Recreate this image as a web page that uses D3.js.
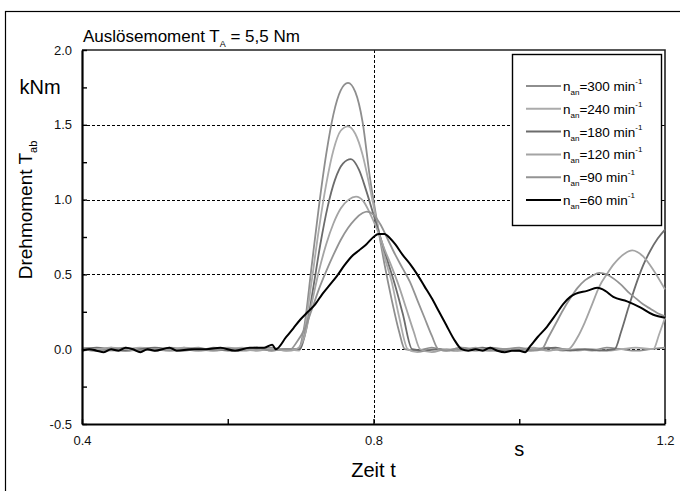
<!DOCTYPE html>
<html>
<head>
<meta charset="utf-8">
<script src="https://cdn.jsdelivr.net/npm/d3@7"></script>
<style>
  body { margin: 0; background: #fff; }
  svg { font-family: "Liberation Sans", Arial, sans-serif; }
</style>
</head>
<body>
<svg id="chart"></svg>
<script>
// speeds in legend order, and their line colours
const SPEEDS = ["300", "240", "180", "120", "90", "60"];
const COLORS = ["#8e8e8e", "#ababab", "#6c6c6c", "#a4a4a4", "#939393", "#000000"];

// [t in s, T_ab in kNm]
const N300 = [[0.40,0.00],[0.42,-0.01],[0.44,0.01],[0.46,-0.01],[0.48,0.00],[0.50,-0.01],[0.52,0.01],[0.54,0.00],[0.56,-0.01],[0.58,0.01],[0.60,0.00],[0.62,-0.01],[0.64,0.00],[0.66,0.01],[0.68,-0.01],[0.697,0.00],[0.705,0.15],[0.715,0.55],[0.725,0.95],[0.735,1.30],[0.745,1.57],[0.755,1.73],[0.765,1.78],[0.775,1.72],[0.785,1.52],[0.795,1.15],[0.805,0.85],[0.815,0.57],[0.825,0.33],[0.835,0.12],[0.843,0.00],[0.86,-0.01],[0.88,0.01],[0.90,-0.01],[0.92,0.00],[0.94,-0.01],[0.96,0.01],[0.98,0.00],[1.00,-0.01],[1.02,0.00],[1.04,0.01],[1.06,-0.01],[1.08,0.00],[1.10,-0.01],[1.12,0.01],[1.14,0.00],[1.16,-0.01],[1.18,0.00],[1.20,0.01]];
const N240 = [[0.40,0.01],[0.42,0.00],[0.44,-0.01],[0.46,0.00],[0.48,0.01],[0.50,0.00],[0.52,-0.01],[0.54,0.01],[0.56,0.00],[0.58,-0.01],[0.60,0.00],[0.62,0.01],[0.64,-0.01],[0.66,0.00],[0.68,0.00],[0.698,-0.01],[0.705,0.12],[0.715,0.45],[0.725,0.80],[0.735,1.10],[0.745,1.33],[0.755,1.46],[0.765,1.49],[0.775,1.44],[0.785,1.30],[0.795,1.08],[0.805,0.84],[0.815,0.62],[0.825,0.45],[0.835,0.22],[0.847,0.00],[0.86,-0.02],[0.88,0.00],[0.90,-0.01],[0.92,0.01],[0.94,-0.01],[0.96,0.00],[0.98,-0.01],[1.00,0.00],[1.02,0.01],[1.04,-0.01],[1.06,0.00],[1.08,-0.01],[1.10,0.00],[1.12,-0.01],[1.14,0.00],[1.16,0.01],[1.184,0.00],[1.192,0.10],[1.20,0.21]];
const N180 = [[0.40,0.00],[0.42,0.01],[0.44,0.00],[0.46,-0.01],[0.48,0.00],[0.50,0.01],[0.52,0.00],[0.54,-0.01],[0.56,0.00],[0.58,0.00],[0.60,-0.01],[0.62,0.00],[0.64,0.01],[0.66,-0.01],[0.68,0.00],[0.699,0.00],[0.707,0.12],[0.717,0.40],[0.727,0.70],[0.737,0.95],[0.747,1.13],[0.758,1.24],[0.769,1.27],[0.78,1.20],[0.79,1.06],[0.80,0.90],[0.81,0.74],[0.82,0.58],[0.83,0.42],[0.84,0.24],[0.853,0.00],[0.87,-0.01],[0.89,0.00],[0.91,-0.01],[0.93,0.00],[0.95,0.01],[0.97,-0.01],[0.99,0.00],[1.01,-0.01],[1.03,0.00],[1.05,0.01],[1.07,-0.01],[1.09,0.00],[1.11,-0.01],[1.131,0.00],[1.14,0.12],[1.15,0.28],[1.16,0.43],[1.17,0.56],[1.18,0.66],[1.19,0.74],[1.20,0.80]];
const N120 = [[0.40,-0.01],[0.42,0.00],[0.44,0.01],[0.46,0.00],[0.48,-0.01],[0.50,0.00],[0.52,0.00],[0.54,0.01],[0.56,-0.01],[0.58,0.00],[0.60,0.01],[0.62,0.00],[0.64,-0.01],[0.66,0.00],[0.68,-0.01],[0.694,0.00],[0.705,0.08],[0.715,0.30],[0.725,0.52],[0.735,0.70],[0.745,0.84],[0.755,0.94],[0.766,1.00],[0.776,1.02],[0.786,0.99],[0.795,0.91],[0.805,0.80],[0.815,0.67],[0.825,0.55],[0.835,0.42],[0.845,0.27],[0.855,0.12],[0.864,0.00],[0.88,-0.02],[0.90,0.00],[0.92,-0.01],[0.94,0.01],[0.96,-0.01],[0.98,0.00],[1.00,-0.01],[1.02,0.00],[1.04,-0.01],[1.055,0.00],[1.067,0.00],[1.08,0.08],[1.09,0.18],[1.10,0.30],[1.11,0.42],[1.12,0.50],[1.13,0.57],[1.145,0.64],[1.155,0.66],[1.162,0.65],[1.17,0.62],[1.184,0.53],[1.20,0.40]];
const N90 = [[0.40,0.00],[0.42,-0.01],[0.44,0.00],[0.46,0.01],[0.48,-0.01],[0.50,0.00],[0.52,-0.01],[0.54,0.00],[0.56,0.01],[0.58,-0.01],[0.60,0.00],[0.62,0.00],[0.64,0.01],[0.66,-0.01],[0.675,0.00],[0.686,0.00],[0.695,0.05],[0.705,0.13],[0.715,0.26],[0.725,0.40],[0.735,0.52],[0.745,0.63],[0.755,0.73],[0.765,0.81],[0.775,0.87],[0.785,0.91],[0.791,0.92],[0.80,0.90],[0.81,0.83],[0.82,0.73],[0.83,0.63],[0.84,0.54],[0.85,0.45],[0.86,0.33],[0.87,0.21],[0.88,0.09],[0.889,0.00],[0.90,-0.01],[0.92,0.01],[0.94,0.00],[0.96,-0.01],[0.98,0.00],[1.00,0.01],[1.02,-0.01],[1.031,0.00],[1.04,0.08],[1.05,0.17],[1.06,0.26],[1.07,0.34],[1.08,0.41],[1.09,0.46],[1.10,0.49],[1.11,0.51],[1.12,0.50],[1.13,0.47],[1.14,0.43],[1.15,0.38],[1.16,0.34],[1.17,0.30],[1.18,0.27],[1.19,0.24],[1.20,0.22]];
const N60 = [[0.40,-0.01],[0.41,0.00],[0.42,-0.01],[0.43,-0.02],[0.44,0.00],[0.45,-0.01],[0.46,0.01],[0.47,0.00],[0.48,-0.02],[0.49,0.00],[0.50,-0.01],[0.52,0.01],[0.53,-0.01],[0.55,0.00],[0.57,0.00],[0.59,0.01],[0.61,-0.01],[0.63,0.01],[0.65,0.01],[0.661,0.03],[0.666,0.00],[0.68,0.08],[0.69,0.14],[0.70,0.20],[0.71,0.25],[0.72,0.30],[0.73,0.37],[0.74,0.43],[0.75,0.49],[0.76,0.56],[0.77,0.62],[0.78,0.66],[0.79,0.70],[0.80,0.75],[0.807,0.77],[0.815,0.77],[0.823,0.74],[0.83,0.70],[0.84,0.63],[0.85,0.57],[0.86,0.50],[0.87,0.42],[0.88,0.34],[0.89,0.25],[0.90,0.16],[0.91,0.07],[0.921,0.00],[0.93,-0.01],[0.94,0.00],[0.95,-0.01],[0.96,0.01],[0.97,-0.01],[0.98,-0.02],[0.99,-0.01],[1.00,-0.01],[1.008,-0.02],[1.015,0.02],[1.025,0.08],[1.038,0.15],[1.05,0.23],[1.06,0.30],[1.07,0.35],[1.077,0.37],[1.093,0.39],[1.107,0.41],[1.118,0.39],[1.129,0.35],[1.148,0.32],[1.166,0.28],[1.184,0.23],[1.20,0.21]];
const SERIES = [N300, N240, N180, N120, N90, N60];

const X_TICKS = [0.4, 0.6, 0.8, 1.0, 1.2];
const X_LABELS = [0.4, 0.8, 1.2];
const Y_TICKS = [-0.5, -0.25, 0, 0.25, 0.5, 0.75, 1.0, 1.25, 1.5, 1.75, 2.0];
const Y_LABELS = [-0.5, 0, 0.5, 1.0, 1.5, 2.0];
const Y_GRID = [0, 0.5, 1.0, 1.5];
const X_GRID = [0.8];

const TOTAL_WIDTH = 680;
const TOTAL_HEIGHT = 491;
const margin = { top: 50, right: 15, bottom: 67, left: 82 };
const CHART_START_X = margin.left;
const CHART_START_Y = margin.top;
const CHART_END_X = TOTAL_WIDTH - margin.right;
const CHART_END_Y = TOTAL_HEIGHT - margin.bottom;

// plain hyphen for negatives, like the original
const fmt = (d) => d3.format(".1f")(d).replace("\u2212", "-");
const isIn = (list, d) => list.some((v) => Math.abs(v - d) < 1e-9);

const svg = d3.select("#chart")
  .attr("width", TOTAL_WIDTH)
  .attr("height", TOTAL_HEIGHT);

// outer frame, runs off the right and bottom edge
svg.append("rect")
  .attr("x", 5.5).attr("y", 11.5)
  .attr("width", 700).attr("height", 500)
  .attr("fill", "none").attr("stroke", "#000").attr("stroke-width", 1.2);

const xScale = d3.scaleLinear().domain([0.4, 1.2]).range([CHART_START_X, CHART_END_X]);
const yScale = d3.scaleLinear().domain([-0.5, 2.0]).range([CHART_END_Y, CHART_START_Y]);

// dashed grid
svg.selectAll(".hgrid")
  .data(Y_GRID)
  .join("line")
  .attr("x1", CHART_START_X).attr("x2", CHART_END_X)
  .attr("y1", (d) => Math.round(yScale(d)) + 0.5)
  .attr("y2", (d) => Math.round(yScale(d)) + 0.5)
  .attr("stroke", "#000").attr("stroke-width", 1)
  .attr("stroke-dasharray", "3,2");

svg.selectAll(".vgrid")
  .data(X_GRID)
  .join("line")
  .attr("x1", (d) => Math.round(xScale(d)) + 0.5)
  .attr("x2", (d) => Math.round(xScale(d)) + 0.5)
  .attr("y1", CHART_START_Y).attr("y2", CHART_END_Y)
  .attr("stroke", "#000").attr("stroke-width", 1)
  .attr("stroke-dasharray", "3,2");

// top and right frame of the plot
svg.append("path")
  .attr("d", `M${CHART_START_X},${CHART_START_Y}H${CHART_END_X}V${CHART_END_Y}`)
  .attr("fill", "none").attr("stroke", "#222").attr("stroke-width", 1.6);

// curves
const line = d3.line()
  .x((d) => xScale(d[0]))
  .y((d) => yScale(d[1]))
  .curve(d3.curveMonotoneX);

svg.append("g")
  .selectAll("path")
  .data(SERIES)
  .join("path")
  .attr("d", line)
  .attr("fill", "none")
  .attr("stroke", (d, i) => COLORS[i])
  .attr("stroke-width", (d, i) => (i === 5 ? 2 : 1.8))
  .attr("stroke-linejoin", "round");

// axes, ticks point inward
const xAxis = d3.axisBottom(xScale)
  .tickValues(X_TICKS)
  .tickSizeInner(-5)
  .tickSizeOuter(0)
  .tickPadding(12)
  .tickFormat((d) => (isIn(X_LABELS, d) ? fmt(d) : ""));

const yAxis = d3.axisLeft(yScale)
  .tickValues(Y_TICKS)
  .tickSizeInner(-5)
  .tickSizeOuter(0)
  .tickPadding(10)
  .tickFormat((d) => (isIn(Y_LABELS, d) ? fmt(d) : ""));

const gx = svg.append("g")
  .attr("transform", `translate(0, ${CHART_END_Y})`)
  .call(xAxis);
const gy = svg.append("g")
  .attr("transform", `translate(${CHART_START_X}, 0)`)
  .call(yAxis);

[gx, gy].forEach((g) => {
  g.select(".domain").attr("stroke-width", 2.2);
  g.selectAll(".tick line").attr("stroke-width", 1.4);
  g.selectAll("text").attr("font-size", 13).attr("fill", "#111")
    .attr("font-family", "'Liberation Sans', Arial, sans-serif");
});

// unit labels
svg.append("text")
  .attr("x", 40).attr("y", yScale(1.75) + 7)
  .attr("text-anchor", "middle").attr("font-size", 20)
  .text("kNm");

svg.append("text")
  .attr("x", xScale(1.0)).attr("y", 456)
  .attr("text-anchor", "middle").attr("font-size", 20)
  .text("s");

svg.append("text")
  .attr("x", xScale(0.8)).attr("y", 477)
  .attr("text-anchor", "middle").attr("font-size", 20)
  .text("Zeit t");

// y axis title
const yTitle = svg.append("text")
  .attr("transform", "translate(32, 210) rotate(-90)")
  .attr("text-anchor", "middle").attr("font-size", 19);
yTitle.append("tspan").text("Drehmoment T");
yTitle.append("tspan").attr("font-size", 11).attr("dy", 5).text("ab");

// title
const title = svg.append("text")
  .attr("x", 83).attr("y", 42)
  .attr("font-size", 17);
title.append("tspan").text("Auslösemoment T");
title.append("tspan").attr("font-size", 9).attr("dy", 5).text("A");
title.append("tspan").attr("dy", -5).text(" = 5,5 Nm");

// legend
const legend = svg.append("g");
legend.append("rect")
  .attr("x", 512.5).attr("y", 54.5)
  .attr("width", 149).attr("height", 171)
  .attr("fill", "#fff").attr("stroke", "#000").attr("stroke-width", 1.4);

const rows = legend.selectAll(".row")
  .data(SPEEDS)
  .join("g")
  .attr("transform", (d, i) => `translate(526, ${86 + i * 22.8})`);

rows.append("line")
  .attr("x1", 0).attr("x2", 35)
  .attr("stroke", (d, i) => COLORS[i])
  .attr("stroke-width", 2);

const labels = rows.append("text")
  .attr("x", 37).attr("y", 5)
  .attr("font-size", 13.5);
labels.append("tspan").text("n");
labels.append("tspan").attr("font-size", 8).attr("dy", 4).text("an");
labels.append("tspan").attr("dy", -4).text((d) => `=${d} min`);
labels.append("tspan").attr("font-size", 8).attr("dy", -7).text("-1");
</script>
</body>
</html>
